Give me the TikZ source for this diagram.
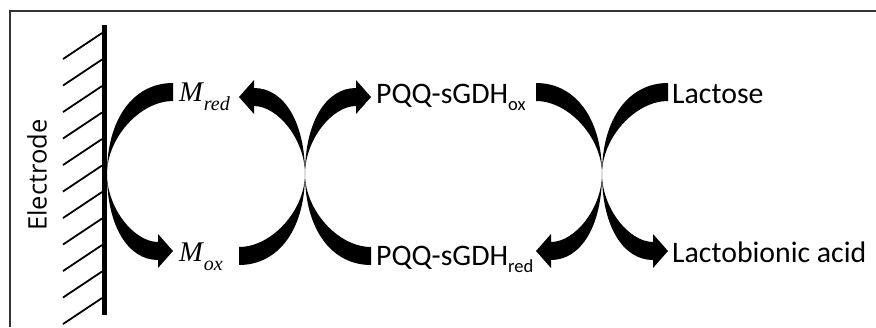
\documentclass[tikz,border=0pt]{standalone}
\usepackage{fontspec}
\newfontfamily\calib{Carlito}
\newfontfamily\osans{Open Sans}
\newfontfamily\tserif{Liberation Serif}
\newcommand\lsub[1]{\raisebox{-7.5pt}{\fontsize{18.5}{19}\selectfont #1}}
\newcommand\msub[1]{\raisebox{-9.5pt}{\fontsize{20}{20}\selectfont #1}}
\begin{document}
\begin{tikzpicture}[x=1pt,y=-1pt,
  lbl/.style={inner sep=0pt,anchor=base west,font=\calib\fontsize{29.8}{30}\selectfont},
  mlbl/.style={inner sep=0pt,anchor=base west,font=\tserif\itshape\fontsize{28.5}{29}\selectfont},
  tailarc/.pic={\fill (0,0) .. controls (0,56) and (27,91) .. (66,91) -- (66,73) .. controls (33,73) and (0,36) .. (0,0) -- cycle;},
  headarc/.pic={\fill (0,0) .. controls (0,52) and (21,86) .. (51,86) -- (51,94) -- (66,77) -- (51,60) -- (51,68) .. controls (27,68) and (0,34) .. (0,0) -- cycle;},
  hatch/.style={line width=1.8pt},
]
\useasboundingbox (0,0) rectangle (876,327);
% frame
\coordinate (fbl) at (10,327);
\coordinate (ftl) at (10,11);
\coordinate (ftr) at (876,11);
\draw[line width=1.4pt, draw=black!80] (fbl) -- (ftl) -- (ftr);
% electrode
\coordinate (etop) at (104,25);
\coordinate (ebot) at (104,315);
\draw[line width=5pt] (etop) -- (ebot);
\foreach \i in {0,...,10} \draw[hatch] (63,{59+26.5*\i}) -- (102,{33+26.5*\i});
\node[rotate=90, font=\osans\fontsize{25.5}{26}\selectfont, inner sep=0pt] (elec) at (37,175) {Electrode};
% crossing centres
\coordinate (c1) at (107,174);
\coordinate (c2) at (305,174);
\coordinate (c3) at (602,174);
% arcs
\pic[yscale=-1] at (c1) {tailarc};
\pic at (c1) {headarc};
\pic[xscale=-1] at (c2) {tailarc};
\pic[xscale=-1,yscale=-1] at (c2) {headarc};
\pic[yscale=-1] at (c2) {headarc};
\pic at (c2) {tailarc};
\pic[xscale=-1,yscale=-1] at (c3) {tailarc};
\pic[xscale=-1] at (c3) {headarc};
\pic[yscale=-1] at (c3) {tailarc};
\pic at (c3) {headarc};
% labels
\node[mlbl] (mred) at (179,101) {M\kern1pt\msub{red}};
\node[mlbl] (mox) at (179,261) {M\kern1pt\msub{ox}};
\node[lbl] (pqqox) at (376,103) {PQQ-sGDH\lsub{ox}};
\node[lbl] (pqqred) at (376,265) {PQQ-sGDH\lsub{red}};
\node[lbl] (lac) at (672,103) {Lactose};
\node[lbl] (lba) at (672,262) {Lactobionic acid};
\end{tikzpicture}
\end{document}
